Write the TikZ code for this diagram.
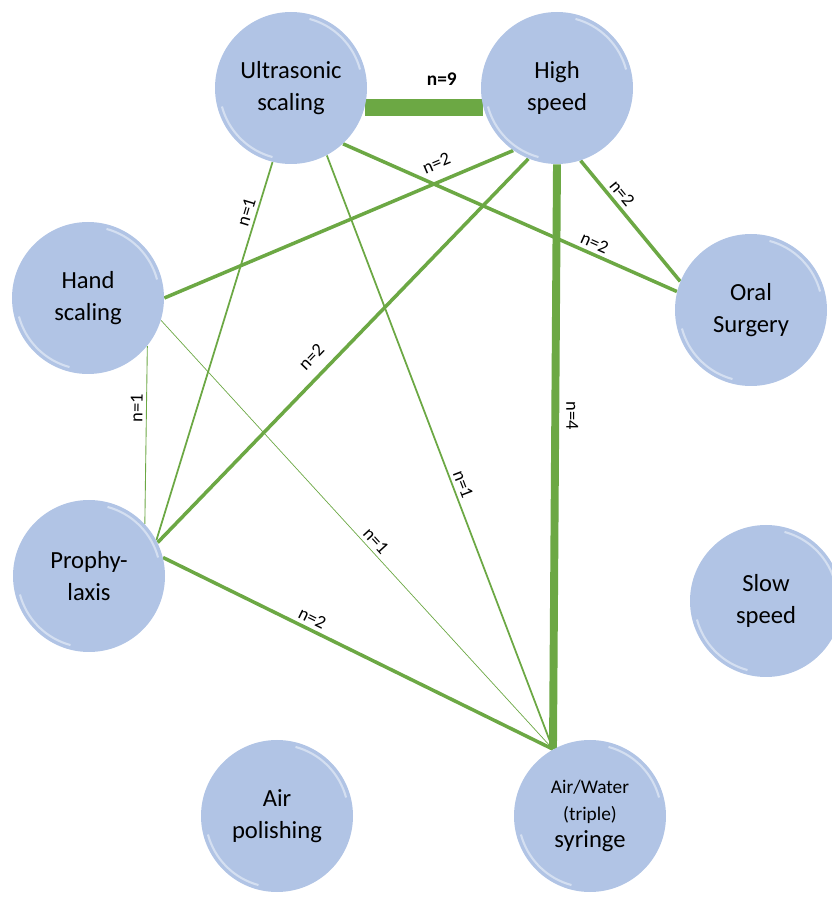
\documentclass[tikz,border=0pt]{standalone}
\usepackage{fontspec}
\setmainfont{Carlito}
\definecolor{nodeblue}{RGB}{177,196,229}
\definecolor{linkgreen}{RGB}{108,168,68}
\pgfdeclarelayer{bg}
\pgfsetlayers{bg,main}

\begin{document}
\begin{tikzpicture}[
    tool/.style={circle, fill=nodeblue, minimum size=3.04cm, inner sep=0pt, align=center,
      font=\fontsize{14}{18}\selectfont,
      path picture={
        \draw[white!45!nodeblue, line width=1.2pt] (path picture bounding box.center) ++(15:1.43) arc (15:75:1.43);
        \draw[white!45!nodeblue, line width=1.2pt] (path picture bounding box.center) ++(195:1.43) arc (195:255:1.43);}},
    link/.style={draw=linkgreen},
    lbl/.style={font=\fontsize{10.5}{12}\selectfont, sloped, above, inner sep=2pt},
  ]
  \useasboundingbox (0,0) rectangle (16.64,17.94);

  \node[tool] (us) at (5.82,16.18) {Ultrasonic\\scaling}; % top left
  \node[tool] (hs) at (11.14,16.18) {High\\speed}; % top right
  \node[tool] (hand) at (1.76,11.98) {Hand\\scaling};
  \node[tool] (oral) at (15.02,11.74) {Oral\\Surgery};
  \node[tool] (proph) at (1.78,6.42) {Prophy-\\laxis};
  \node[tool] (slow) at (15.32,5.92) {Slow\\speed}; % no links
  \node[tool] (airp) at (5.54,1.62) {Air\\polishing}; % no links
  \node[tool, font=\fontsize{11}{15.5}\selectfont] (syr) at (11.80,1.62)
    {Air/Water\\(triple)\\{\fontsize{14}{15.5}\selectfont syringe}};

  \begin{pgfonlayer}{bg}
    \draw[link, line width=9.5pt] (us.-15) -- node[lbl, above=6pt, pos=0.65, font=\bfseries\fontsize{11}{12}\selectfont] {n=9} (hs.195);
    \draw[link, line width=2pt] (hand.0) -- node[lbl, above=4pt, pos=0.8] {n=2} (hs.235);
    \draw[link, line width=2pt] (us.-47) -- node[lbl, pos=0.74] {n=2} (oral.166);
    \draw[link, line width=2pt] (hs.-72) -- node[lbl, pos=0.33] {n=2} (oral.158);
    \draw[link, line width=4.5pt] (hs.-90) -- node[font=\fontsize{10.5}{12}\selectfont, rotate=-90, anchor=south, inner sep=4pt, pos=0.43] {n=4} (syr.119); % thickest after n=9
    \draw[link, line width=2pt] (proph.26) -- node[lbl, above=4pt, pos=0.45] {n=2} (hs.248);
    \draw[link, line width=1pt] (proph.28) -- node[lbl, pos=0.86] {n=1} (us.256);
    \draw[link, line width=1pt] (us.-62) -- node[lbl, pos=0.56] {n=1} (syr.119);
    \draw[link, line width=0.5pt] (proph.43) -- node[lbl, pos=0.65] {n=1} (hand.-39);
    \draw[link, line width=0.4pt] (hand.-17) -- node[lbl, pos=0.53] {n=1} (syr.119);
    \draw[link, line width=2pt] (proph.14) -- node[lbl, pos=0.37] {n=2} (syr.119);
  \end{pgfonlayer}
\end{tikzpicture}
\end{document}
